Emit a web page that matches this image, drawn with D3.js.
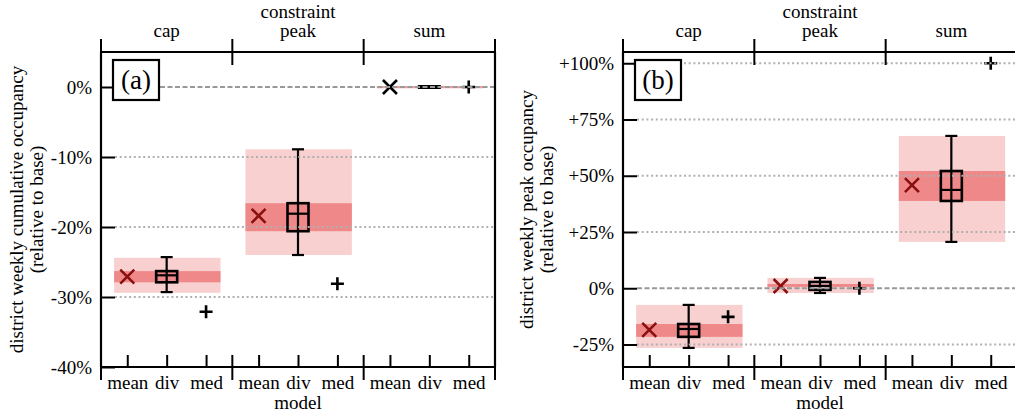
<!DOCTYPE html>
<html>
<head>
<meta charset="utf-8">
<script src="https://cdn.jsdelivr.net/npm/d3@7"></script>
<style>
  body { margin: 0; background: #fff; }
  svg text { font-family: "Liberation Serif", "DejaVu Serif", "Times New Roman", serif !important; fill: #000; }
</style>
</head>
<body>
<div id="chart"></div>
<script>
const groups = ["cap", "peak", "sum"];
const models = ["mean", "div", "med"];

// panel (a): weekly cumulative occupancy, % relative to base
const aOuterBand = [[-24.4, -29.4], [-8.9, -24.0], [0, 0]];
const aInnerBand = [[-26.3, -27.9], [-16.6, -20.6], [0, 0]];
const aMean = [-27.1, -18.4, 0];
const aMed = [-32.1, -28.1, 0];
// div: [whisker low, q1, median, q3, whisker high]
const aDiv = [[-29.3, -27.9, -26.9, -26.3, -24.3], [-24.0, -20.6, -18.1, -16.6, -8.9], [0, 0, 0, 0, 0]];
const aTicks = [0, -10, -20, -30, -40];

// panel (b): weekly peak occupancy, % relative to base
const bOuterBand = [[-7.4, -26.5], [4.6, -2.1], [67.7, 20.6]];
const bInnerBand = [[-15.9, -21.6], [1.9, 0.6], [52.1, 38.8]];
const bMean = [-18.5, 1.0, 45.8];
const bMed = [-12.7, 0, 100];
const bDiv = [[-26.5, -21.6, -18.1, -15.9, -7.4], [-2.1, -0.7, 1.0, 2.8, 4.6], [20.6, 38.8, 43.7, 52.1, 67.7]];
const bTicks = [100, 75, 50, 25, 0, -25];

const W = 1015, H = 416;
const svg = d3.select("#chart").append("svg")
    .attr("width", W)
    .attr("height", H);

const pw = 394, ph = 315;
const fs = "19px";

function drawPanel(opt) {
    const g = svg.append("g").attr("transform", `translate(${opt.left},52)`);

    const y = d3.scaleLinear().domain(opt.domain).range([ph, 0]);
    const gx = d3.scaleBand().domain(groups).range([0, pw]);
    const mx = d3.scalePoint().domain(models).range([0, gx.bandwidth()]).padding(2 / 3);
    const bw = gx.bandwidth();

    const rows = groups.map((k, i) => ({
        key: k,
        outer: opt.outer[i],
        inner: opt.inner[i],
        mean: opt.mean[i],
        med: opt.med[i],
        div: opt.div[i]
    }));

    // shaded bands
    const cell = g.selectAll(".cell").data(rows).enter().append("g")
        .attr("class", "cell")
        .attr("transform", d => `translate(${gx(d.key)},0)`);

    cell.append("rect")
        .attr("x", bw * 0.1)
        .attr("width", bw * 0.81)
        .attr("y", d => y(d3.max(d.outer)))
        .attr("height", d => Math.max(1.5, y(d3.min(d.outer)) - y(d3.max(d.outer))))
        .attr("fill", "#f8d0d0");

    cell.append("rect")
        .attr("x", bw * 0.1)
        .attr("width", bw * 0.81)
        .attr("y", d => y(d3.max(d.inner)) - (d.inner[0] === d.inner[1] ? 0.75 : 0))
        .attr("height", d => Math.max(1.5, y(d3.min(d.inner)) - y(d3.max(d.inner))))
        .attr("fill", "#ef8888");

    // grid lines
    g.selectAll(".grid").data(opt.ticks.filter(t => t !== opt.domain[0])).enter().append("line")
        .attr("x1", 14).attr("x2", pw)
        .attr("y1", d => y(d)).attr("y2", d => y(d))
        .attr("stroke", d => d === 0 ? "#999" : "#b0b0b0")
        .attr("stroke-width", 2)
        .attr("stroke-dasharray", d => d === 0 ? "5,2.5" : "2,2.7");

    // y axis
    const yAxis = d3.axisLeft(y)
        .tickValues(opt.ticks)
        .tickSize(-14)
        .tickPadding(9)
        .tickFormat(opt.fmt);
    const ya = g.append("g").call(yAxis).attr("font-family", null).attr("font-size", null);
    ya.select(".domain").remove();
    ya.selectAll(".tick line").attr("stroke", "#000").attr("stroke-width", 2);
    ya.selectAll(".tick text").style("font-size", fs).attr("fill", "#000");

    // frame
    g.append("line").attr("x1", 0).attr("x2", 0).attr("y1", 0).attr("y2", ph)
        .attr("stroke", "#000").attr("stroke-width", 2.2);
    g.append("line").attr("x1", -1).attr("x2", pw + 1).attr("y1", 0).attr("y2", 0)
        .attr("stroke", "#000").attr("stroke-width", 2.2);
    g.append("line").attr("x1", -1).attr("x2", pw + 1).attr("y1", ph).attr("y2", ph)
        .attr("stroke", "#000").attr("stroke-width", 2.2);
    g.append("line").attr("x1", pw).attr("x2", pw).attr("y1", 0).attr("y2", ph)
        .attr("stroke", "#000").attr("stroke-width", 2.2);

    // group separators, top and bottom
    const seps = groups.map(k => gx(k)).concat([pw]);
    g.selectAll(".septop").data(seps).enter().append("line")
        .attr("x1", d => d).attr("x2", d => d)
        .attr("y1", -13).attr("y2", (d, i) => (i === 0 || i === seps.length - 1) ? 0 : 13)
        .attr("stroke", "#000").attr("stroke-width", 2);
    g.selectAll(".sepbot").data(seps).enter().append("line")
        .attr("x1", d => d).attr("x2", d => d)
        .attr("y1", (d, i) => (i === 0 || i === seps.length - 1) ? ph : ph - 12)
        .attr("y2", ph + 13)
        .attr("stroke", "#000").attr("stroke-width", 2);

    // bottom model ticks and labels
    const bottom = cell.append("g").attr("transform", `translate(0,${ph})`);
    bottom.call(d3.axisBottom(mx).tickSize(-12).tickPadding(9));
    bottom.attr("font-family", null).attr("font-size", null);
    bottom.selectAll(".domain").remove();
    bottom.selectAll(".tick line").attr("stroke", "#000").attr("stroke-width", 2);
    bottom.selectAll(".tick text").style("font-size", fs).attr("fill", "#000");

    // top group labels
    g.selectAll(".glab").data(groups).enter().append("text")
        .attr("x", d => gx(d) + bw / 2)
        .attr("y", -15)
        .attr("text-anchor", "middle")
        .style("font-size", fs)
        .text(d => d);
    g.append("text")
        .attr("x", gx("peak") + bw / 2)
        .attr("y", -34)
        .attr("text-anchor", "middle")
        .style("font-size", fs)
        .text("constraint");

    // x axis title
    g.append("text")
        .attr("x", pw / 2)
        .attr("y", ph + 42)
        .attr("text-anchor", "middle")
        .style("font-size", fs)
        .text("model");

    // y axis title
    const yt = g.append("text")
        .attr("transform", `translate(${opt.titleX},${ph / 2}) rotate(-90)`)
        .attr("text-anchor", "middle")
        .style("font-size", fs);
    yt.append("tspan").attr("x", 0).attr("dy", 0).text(opt.title);
    yt.append("tspan").attr("x", 0).attr("dy", 20).text("(relative to base)");

    // mean markers
    const xs = 7;
    cell.append("path")
        .attr("transform", d => `translate(${mx("mean")},${y(d.mean)})`)
        .attr("d", `M${-xs},${-xs}L${xs},${xs}M${-xs},${xs}L${xs},${-xs}`)
        .attr("stroke", d => d.outer[0] === d.outer[1] ? "#000" : "#8a1010")
        .attr("stroke-width", 2.6)
        .attr("fill", "none");

    // median-model markers
    const ps = 6.5;
    cell.append("path")
        .attr("transform", d => `translate(${mx("med")},${y(d.med)})`)
        .attr("d", `M${-ps},0L${ps},0M0,${-ps}L0,${ps}`)
        .attr("stroke", "#000")
        .attr("stroke-width", 2.6)
        .attr("fill", "none");

    // div box plots
    const boxW = 21, capW = 12;
    const box = cell.append("g").attr("transform", `translate(${mx("div")},0)`);
    const flat = box.filter(d => d.div[1] === d.div[3]);
    const full = box.filter(d => d.div[1] !== d.div[3]);

    full.append("line")
        .attr("x1", 0).attr("x2", 0)
        .attr("y1", d => y(d.div[0])).attr("y2", d => y(d.div[4]))
        .attr("stroke", "#000").attr("stroke-width", 2.2);
    full.selectAll(".cap").data(d => [d.div[0], d.div[4]]).enter().append("line")
        .attr("x1", -capW / 2).attr("x2", capW / 2)
        .attr("y1", v => y(v)).attr("y2", v => y(v))
        .attr("stroke", "#000").attr("stroke-width", 2.2);
    full.append("rect")
        .attr("x", -boxW / 2).attr("width", boxW)
        .attr("y", d => y(d.div[3]))
        .attr("height", d => y(d.div[1]) - y(d.div[3]))
        .attr("fill", "none")
        .attr("stroke", "#000")
        .attr("stroke-width", 2.6);
    full.append("line")
        .attr("x1", -boxW / 2).attr("x2", boxW / 2)
        .attr("y1", d => y(d.div[2])).attr("y2", d => y(d.div[2]))
        .attr("stroke", "#000").attr("stroke-width", 2.2);

    // collapsed box: a solid bar
    flat.append("rect")
        .attr("x", -boxW / 2 - 1).attr("width", boxW + 2)
        .attr("y", d => y(d.div[2]) - 2).attr("height", 4)
        .attr("fill", "#000");

    // panel label
    g.append("rect")
        .attr("x", 12).attr("y", 8).attr("width", 46).attr("height", 40)
        .attr("fill", "#fff").attr("stroke", "#000").attr("stroke-width", 2.2);
    g.append("text")
        .attr("x", 35).attr("y", 37)
        .attr("text-anchor", "middle")
        .style("font-size", "27px")
        .text(opt.label);
}

const pct = d => (d > 0 ? "+" : "") + d + "%";

drawPanel({
    left: 101, domain: [-40, 5], ticks: aTicks, fmt: d => d + "%",
    outer: aOuterBand, inner: aInnerBand, mean: aMean, med: aMed, div: aDiv,
    label: "(a)", title: "district weekly cumulative occupancy", titleX: -78
});

drawPanel({
    left: 623, domain: [-35, 105], ticks: bTicks, fmt: pct,
    outer: bOuterBand, inner: bInnerBand, mean: bMean, med: bMed, div: bDiv,
    label: "(b)", title: "district weekly peak occupancy", titleX: -90
});
</script>
</body>
</html>
